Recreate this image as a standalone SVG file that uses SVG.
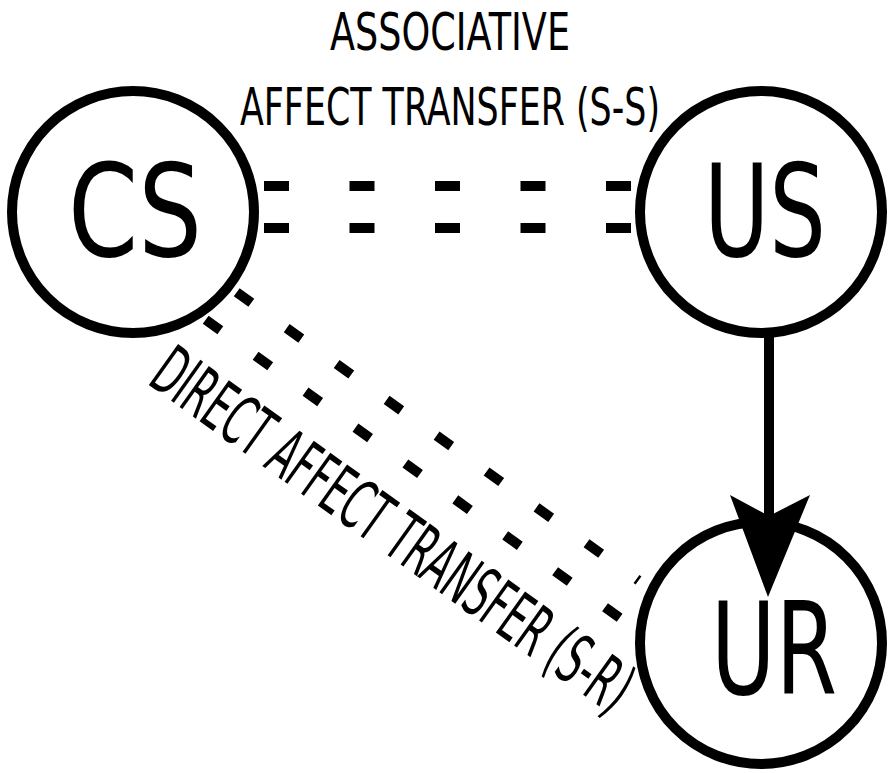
<svg xmlns="http://www.w3.org/2000/svg" width="889" height="773" viewBox="0 0 889 773">
  <style>
    .node { fill: #ffffff; stroke: #000000; stroke-width: 10; }
    .big { font-family: "DejaVu Sans", "Liberation Sans", sans-serif; font-size: 128px; fill: #000000; text-anchor: middle; }
    .label { font-family: "DejaVu Sans", "Liberation Sans", sans-serif; font-size: 52px; fill: #000000; text-anchor: middle; }
    .diag { font-family: "DejaVu Sans", "Liberation Sans", sans-serif; font-size: 69px; fill: #000000; }
    .pair { stroke: #000000; stroke-width: 10; stroke-dasharray: 25 60.5; fill: none; }
    .slant { stroke: #000000; stroke-width: 10; stroke-dasharray: 18 43.5; fill: none; }
    .shaft { stroke: #000000; stroke-width: 10; fill: none; }
  </style>
  <rect width="889" height="773" fill="#ffffff"/>

  <!-- stimulus / response nodes -->
  <g id="cs">
    <circle class="node" cx="133" cy="212" r="121"/>
    <text class="big" x="135" y="256" textLength="134" lengthAdjust="spacingAndGlyphs">CS</text>
  </g>
  <g id="us">
    <circle class="node" cx="761" cy="212" r="121"/>
    <text class="big" x="765" y="256" textLength="122" lengthAdjust="spacingAndGlyphs">US</text>
  </g>
  <g id="ur">
    <circle class="node" cx="761" cy="643" r="121"/>
    <text class="big" x="774" y="694" textLength="126" lengthAdjust="spacingAndGlyphs">UR</text>
  </g>

  <!-- links between nodes -->
  <g id="connectors">
    <!-- CS = = US double dashed link -->
    <line class="pair" x1="264" y1="186" x2="632" y2="186"/>
    <line class="pair" x1="264" y1="228" x2="632" y2="228"/>
    <!-- CS to UR double dashed diagonal link -->
    <line class="slant" x1="236.7" y1="292.3" x2="638.5" y2="580.5"/>
    <line class="slant" x1="205.7" y1="319.8" x2="620.3" y2="618.2"/>
    <!-- US to UR arrow -->
    <line class="shaft" x1="769" y1="334" x2="769" y2="520"/>
    <polygon points="730,495 769,516 810,495 768,597" fill="#000000"/>
  </g>

  <!-- link labels -->
  <g id="labels">
    <text class="label" x="450" y="50" textLength="240" lengthAdjust="spacingAndGlyphs">ASSOCIATIVE</text>
    <text class="label" x="450" y="125" textLength="420" lengthAdjust="spacingAndGlyphs">AFFECT TRANSFER (S-S)</text>
    <text class="diag" transform="translate(146,383) rotate(35.5)" x="0" y="0" textLength="572" lengthAdjust="spacingAndGlyphs">DIRECT AFFECT TRANSFER (S-R)</text>
  </g>
</svg>
